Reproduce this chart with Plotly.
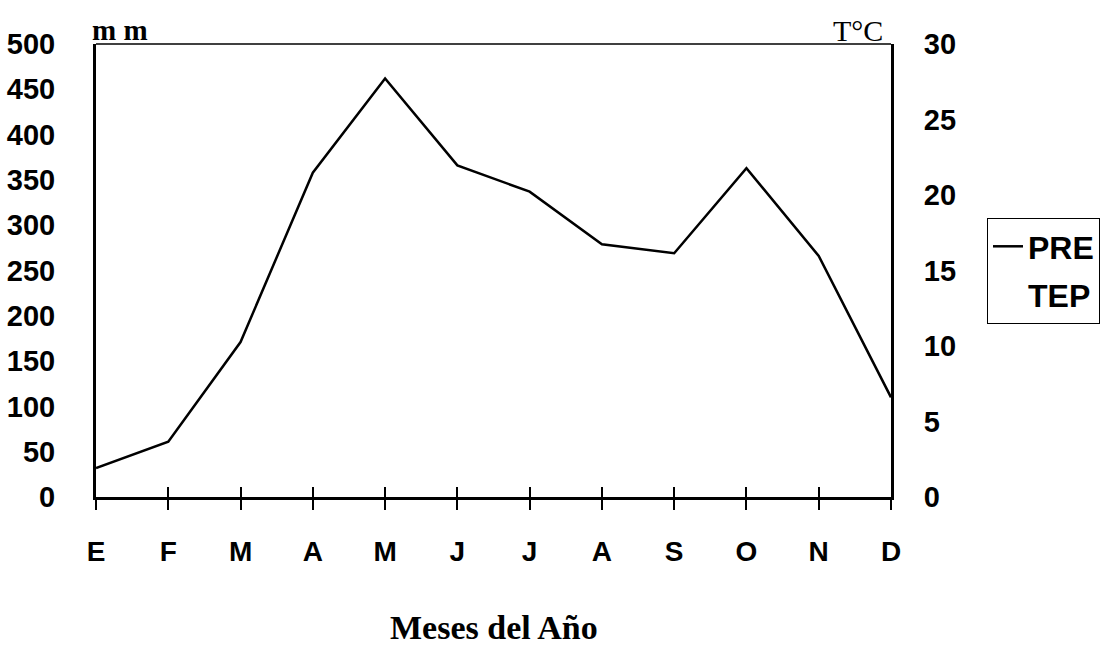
import plotly.graph_objects as go

# Monthly climate data
meses = ["E", "F", "M", "A", "M", "J", "J", "A", "S", "O", "N", "D"]
precipitacion_mm = [32, 61, 171, 358, 462, 366, 337, 279, 269, 363, 266, 110]
y_left_ticks = [0, 50, 100, 150, 200, 250, 300, 350, 400, 450, 500]
y_right_ticks = [0, 5, 10, 15, 20, 25, 30]

pos = list(range(len(meses)))

SANS = "Liberation Sans, Arial, sans-serif"
SERIF = "Liberation Serif, Times New Roman, serif"

PLOT_TOP, PLOT_BOTTOM = 44, 497
PLOT_H = PLOT_BOTTOM - PLOT_TOP

fig = go.Figure()

fig.add_trace(go.Scatter(
    x=pos, y=precipitacion_mm, name="PRE", mode="lines",
    line=dict(color="black", width=2.5),
    legendgroup="pre",
))
# Temperature entry: listed in the legend without a drawn line
fig.add_trace(go.Scatter(
    x=pos, y=[None] * len(pos), name="TEP", mode="lines",
    line=dict(color="rgba(0,0,0,0)", width=0),
    yaxis="y2", legendgroup="tep", hoverinfo="skip",
))
# Helper trace so the inner half of the month ticks is drawn
fig.add_trace(go.Scatter(
    x=pos, y=[None] * len(pos), xaxis="x2", showlegend=False, hoverinfo="skip",
))

fig.update_layout(
    width=1110, height=645,
    margin=dict(l=96, r=219, t=PLOT_TOP, b=645 - PLOT_BOTTOM),
    paper_bgcolor="white", plot_bgcolor="white",
    showlegend=True,
    xaxis=dict(
        range=[0, 11], tickmode="array", tickvals=pos, ticktext=meses,
        showgrid=False, zeroline=False, automargin=False,
        showline=True, linecolor="black", linewidth=2.5,
        ticks="outside", ticklen=10, tickwidth=1.5, tickcolor="black",
        ticklabelstandoff=18,
        tickfont=dict(family=SANS, size=28, color="black", weight="bold"),
    ),
    xaxis2=dict(
        range=[0, 11], overlaying="x", anchor="y", side="bottom",
        tickmode="array", tickvals=pos, showticklabels=False,
        showgrid=False, zeroline=False, showline=False, automargin=False,
        ticks="inside", ticklen=10, tickwidth=1.5, tickcolor="black",
    ),
    yaxis=dict(
        range=[0, 500], tickmode="array", tickvals=y_left_ticks,
        showgrid=False, zeroline=False, automargin=False,
        showline=True, linecolor="black", linewidth=3,
        ticks="", ticklabelstandoff=32,
        tickfont=dict(family=SANS, size=29, color="black", weight="bold"),
    ),
    yaxis2=dict(
        range=[0, 30], tickmode="array", tickvals=y_right_ticks,
        overlaying="y", side="right", anchor="x", automargin=False,
        showgrid=False, zeroline=False,
        showline=True, linecolor="black", linewidth=3,
        ticks="", ticklabelstandoff=24,
        tickfont=dict(family=SANS, size=29, color="black", weight="bold"),
    ),
    legend=dict(
        x=987 / 1110, xref="container", xanchor="left",
        y=(645 - 218) / 645, yref="container", yanchor="top",
        bordercolor="black", borderwidth=1, bgcolor="white",
        font=dict(family=SANS, size=32, color="black", weight="bold"),
        traceorder="grouped", tracegroupgap=4,
        itemwidth=30,
    ),
    shapes=[dict(
        type="line", xref="paper", yref="paper", x0=0, x1=1, y0=1, y1=1,
        line=dict(color="black", width=1.5),
    )],
    annotations=[
        dict(text="m m", xref="paper", yref="paper", x=0, y=1, xanchor="left",
             yanchor="bottom", showarrow=False, xshift=-6, yshift=-4,
             font=dict(family=SERIF, size=29, color="black", weight="bold")),
        dict(text="T°C", xref="paper", yref="paper", x=1, y=1, xanchor="right",
             yanchor="bottom", showarrow=False, xshift=-6, yshift=-5,
             font=dict(family=SERIF, size=30, color="black")),
        dict(text="Meses del Año", xref="paper", yref="paper",
             x=0.5, y=(PLOT_BOTTOM - 627) / PLOT_H,
             xanchor="center", yanchor="middle", showarrow=False,
             font=dict(family=SERIF, size=34, color="black", weight="bold")),
    ],
)

fig.write_html("out.html")
